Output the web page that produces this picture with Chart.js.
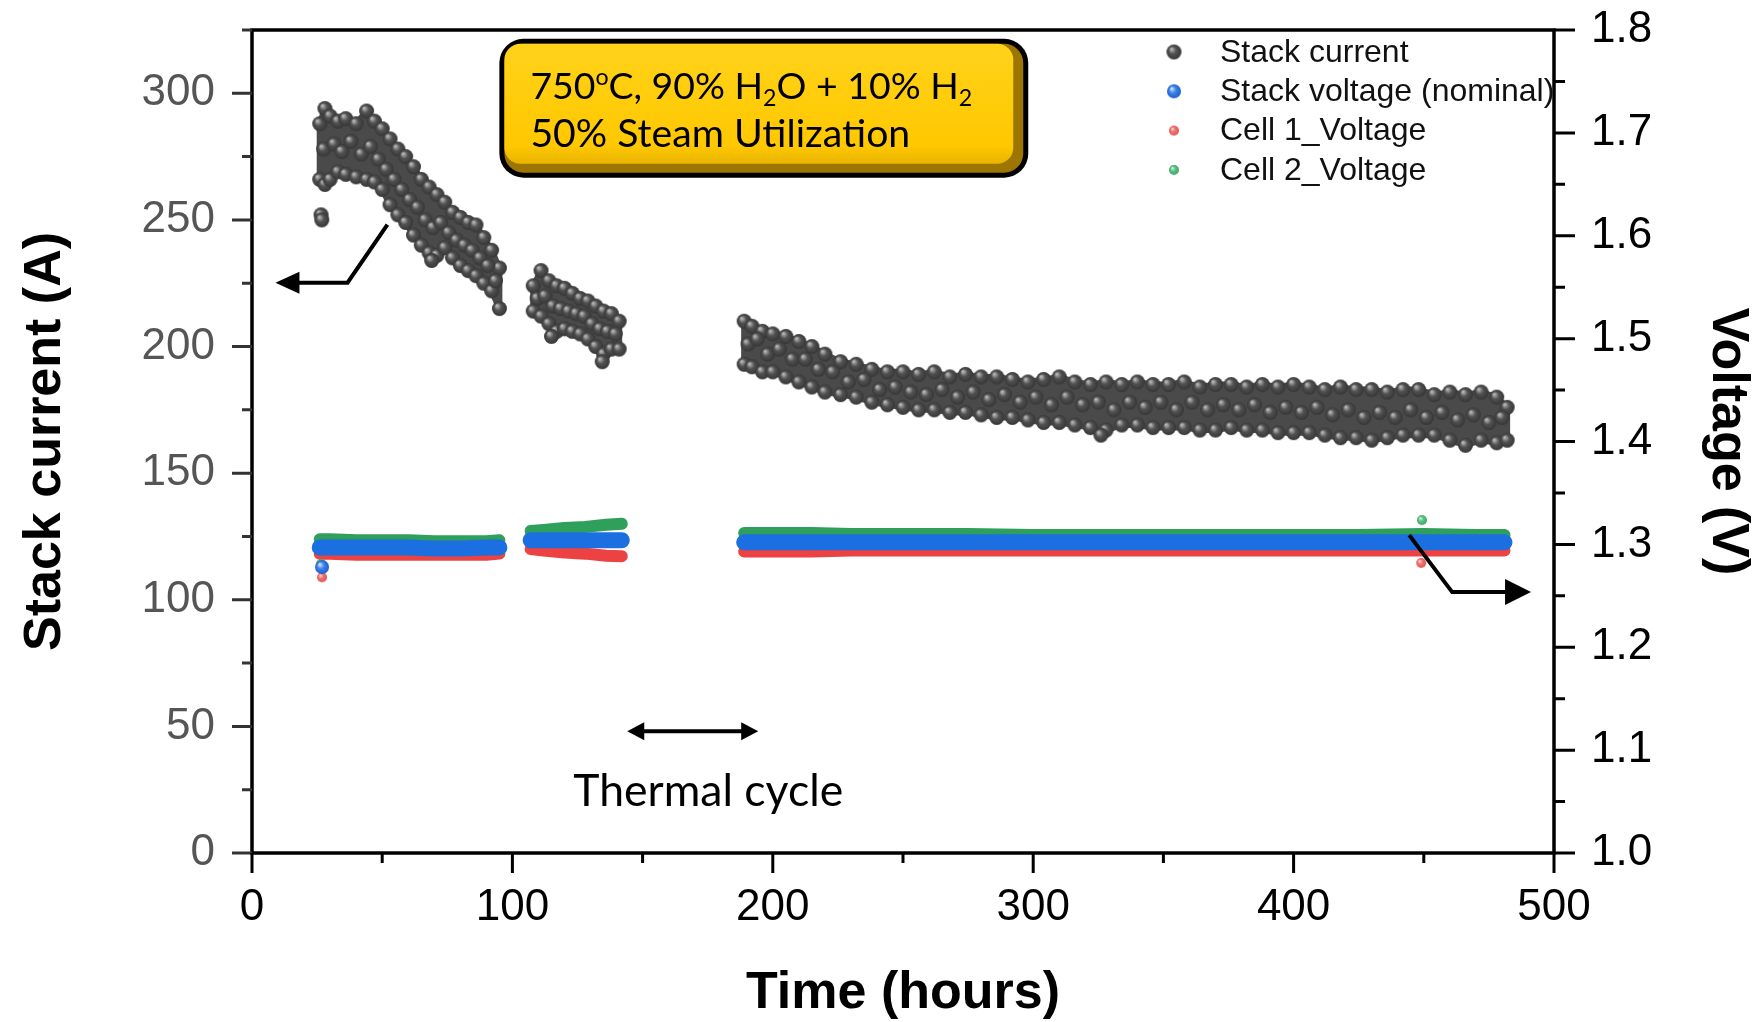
<!DOCTYPE html>
<html>
<head>
<meta charset="utf-8">
<title>Stack current and voltage</title>
<script src="https://cdn.jsdelivr.net/npm/chart.js@4.4.1/dist/chart.umd.min.js"></script>
<style>
  html, body { margin: 0; padding: 0; background: #fff; }
  #wrap { width: 1757px; height: 1022px; }
</style>
</head>
<body>
<div id="wrap"><canvas id="myChart"></canvas></div>
<script>
// Stack current, upper and lower edge of the scatter cloud per run (hours, A)
const curTime1 = [26, 28, 30, 33, 36, 40, 44, 47, 50, 53, 56, 59, 62, 65, 68, 71, 74, 77, 80, 83, 86, 89, 92, 95];
const curTop1 = [288, 294, 291, 289, 290, 288, 293, 289, 286, 282, 278, 275, 271, 266, 263, 260, 257, 253, 251, 249, 248, 243, 238, 231];
const curBot1 = [266, 264, 266, 269, 268, 267, 266, 265, 262, 256, 252, 249, 244, 240, 237, 236, 239, 235, 232, 230, 228, 225, 222, 215];
// readings inside the cloud
const curMidTime1 = [27.5, 31.5, 34.5, 38, 42, 45.5, 48.5, 51.5, 54.5, 57.5, 60.5, 63.5, 66.5, 69.5, 72.5, 75.5, 78.5, 81.5, 84.5, 87.5, 90.5, 93.5];
const curMid1 = [278, 280, 277, 281, 276, 279, 274, 270, 266, 262, 258, 255, 250, 247, 249, 245, 242, 240, 238, 235, 232, 226];

const curTime2 = [108, 111, 114, 117, 120, 123, 126, 129, 132, 135, 138, 141];
const curTop2 = [224, 230, 226, 224, 223, 221, 219, 218, 216, 214, 213, 210];
const curBot2 = [214, 212, 209, 206, 207, 206, 205, 203, 200, 197, 199, 199];
const curMidTime2 = [109.5, 112.5, 115.5, 118.5, 121.5, 124.5, 127.5, 130.5, 133.5, 136.5, 139.5];
const curMid2 = [219, 220, 216, 215, 214, 213, 212, 209, 207, 206, 205];

const curTime3 = [189, 192, 196, 200, 205, 210, 215, 220, 226, 232, 238, 244, 250, 256, 262, 268, 274, 280, 286, 292,
  298, 304, 310, 316, 322, 328, 334, 340, 346, 352, 358, 364, 370, 376, 382, 388, 394, 400, 406, 412,
  418, 424, 430, 436, 442, 448, 454, 460, 466, 472, 478, 482];
const curTop3 = [210, 208, 206, 205, 204, 202, 200, 197, 194, 193, 191, 190, 190, 189, 190, 188, 189, 188, 188, 187,
  186, 187, 188, 186, 185, 186, 185, 186, 185, 185, 186, 184, 185, 185, 184, 185, 184, 185, 184, 183,
  184, 183, 183, 182, 183, 183, 181, 182, 181, 182, 180, 176];
const curBot3 = [193, 192, 190, 190, 188, 186, 184, 182, 181, 180, 178, 177, 176, 175, 175, 174, 174, 173, 172, 172,
  171, 170, 170, 169, 168, 167, 169, 169, 168, 168, 168, 167, 167, 168, 167, 167, 166, 166, 166, 165,
  164, 164, 163, 164, 165, 165, 165, 163, 161, 163, 162, 163];
const curMidTime3 = [190.5, 194, 198, 202.5, 207.5, 212.5, 217.5, 223, 229, 235, 241, 247, 253, 259, 265, 271, 277, 283, 289, 295,
  301, 307, 313, 319, 325, 331, 337, 343, 349, 355, 361, 367, 373, 379, 385, 391, 397, 403, 409, 415,
  421, 427, 433, 439, 445, 451, 457, 463, 469, 475, 480];
const curMid3 = [201, 203, 197, 199, 195, 195, 191, 190, 186, 187, 183, 184, 182, 181, 183, 180, 182, 179, 181, 178,
  180, 177, 180, 177, 178, 175, 178, 176, 178, 175, 178, 175, 177, 175, 177, 174, 176, 174, 176, 173,
  175, 172, 174, 172, 175, 172, 174, 171, 173, 170, 172];

// stray current readings outside the band
const curOutTime = [26.5, 26.8, 69, 115, 134.5, 326];
const curOutVal = [252, 250, 234, 204, 194, 165];

// voltages (V); null = no data during the thermal cycle
const voltTime = [26, 30, 40, 50, 60, 70, 80, 90, 95, 101, 107, 112, 120, 128, 136, 142, 165,
  189, 200, 215, 230, 250, 275, 300, 325, 350, 375, 400, 425, 450, 470, 481];
const stackVolt = [1.297, 1.297, 1.297, 1.297, 1.297, 1.296, 1.296, 1.297, 1.297, null,
  1.304, 1.304, 1.304, 1.304, 1.304, 1.304, null,
  1.302, 1.302, 1.302, 1.302, 1.302, 1.302, 1.302, 1.302, 1.302, 1.302, 1.302, 1.302, 1.302, 1.302, 1.302];
const cell1Volt = [1.291, 1.291, 1.290, 1.290, 1.290, 1.290, 1.290, 1.290, 1.291, null,
  1.2955, 1.294, 1.292, 1.291, 1.289, 1.2885, null,
  1.293, 1.293, 1.293, 1.294, 1.294, 1.294, 1.294, 1.294, 1.294, 1.294, 1.294, 1.294, 1.294, 1.294, 1.294];
const cell2Volt = [1.305, 1.305, 1.304, 1.304, 1.304, 1.303, 1.303, 1.303, 1.304, null,
  1.313, 1.314, 1.316, 1.317, 1.319, 1.320, null,
  1.311, 1.311, 1.311, 1.310, 1.310, 1.310, 1.309, 1.309, 1.309, 1.309, 1.309, 1.309, 1.310, 1.309, 1.309];

const stackOutTime = [26.9];
const stackOutVolt = [1.278];
const cell1OutTime = [26.9, 449];
const cell1OutVolt = [1.268, 1.282];
const cell2OutTime = [26.5, 449.3];
const cell2OutVolt = [1.281, 1.3236];

const seriesLabels = ['Stack current', 'Stack voltage (nominal)', 'Cell 1_Voltage', 'Cell 2_Voltage'];

// axis ticks
const xTicks = [0, 100, 200, 300, 400, 500];
const xMinorTicks = [50, 150, 250, 350, 450];
const currentTicks = [0, 50, 100, 150, 200, 250, 300];
const currentMinorTicks = [25, 75, 125, 175, 225, 275, 325];
const voltTicks = [1.0, 1.1, 1.2, 1.3, 1.4, 1.5, 1.6, 1.7, 1.8];
const voltMinorTicks = [1.05, 1.15, 1.25, 1.35, 1.45, 1.55, 1.65, 1.75];

const currentSegments = [
  { time: curTime1, top: curTop1, bottom: curBot1 },
  { time: curTime2, top: curTop2, bottom: curBot2 },
  { time: curTime3, top: curTop3, bottom: curBot3 }
];

const xy = (xs, ys) => xs.map((x, i) => ({ x: x, y: ys[i] }));

const currentPoints = [];
currentSegments.forEach(s => {
  currentPoints.push(...xy(s.time, s.top), ...xy(s.time, s.bottom));
});
currentPoints.push(...xy(curMidTime1, curMid1), ...xy(curMidTime2, curMid2), ...xy(curMidTime3, curMid3));
currentPoints.push(...xy(curOutTime, curOutVal));

const BLUE = '#1c6fe0', RED = '#ec4242', GREEN = '#2f9f5c';

function makeSphere(r, light, mid, dark) {
  const c = document.createElement('canvas');
  const s = Math.ceil(r * 2 + 2);
  c.width = c.height = s;
  const g = c.getContext('2d');
  const grad = g.createRadialGradient(s / 2 - r * 0.35, s / 2 - r * 0.4, r * 0.08, s / 2, s / 2, r);
  grad.addColorStop(0, light);
  grad.addColorStop(0.45, mid);
  grad.addColorStop(1, dark);
  g.fillStyle = grad;
  g.beginPath();
  g.arc(s / 2, s / 2, r, 0, Math.PI * 2);
  g.fill();
  return c;
}

const greySphere = makeSphere(7.5, '#b8b8b8', '#525252', '#363636');
const blueSphere = makeSphere(7, '#cfe0ff', '#3b82ec', '#1f5fc8');
const redDot = makeSphere(5, '#ffd0d0', '#f07070', '#e05555');
const greenDot = makeSphere(5, '#d0f5dc', '#5cc085', '#3fa868');

// dark body of the current cloud, filled between its upper and lower edge
const bandFill = {
  id: 'bandFill',
  beforeDatasetsDraw(chart) {
    const { ctx, chartArea, scales } = chart;
    const x = scales.x, y = scales.y;
    ctx.save();
    ctx.beginPath();
    ctx.rect(chartArea.left, chartArea.top, chartArea.width, chartArea.height);
    ctx.clip();
    ctx.fillStyle = '#4a4a4a';
    ctx.strokeStyle = '#4a4a4a';
    ctx.lineWidth = 6;
    ctx.lineJoin = 'round';
    currentSegments.forEach(s => {
      ctx.beginPath();
      s.time.forEach((t, i) => {
        const px = x.getPixelForValue(t), py = y.getPixelForValue(s.top[i]);
        if (i === 0) ctx.moveTo(px, py); else ctx.lineTo(px, py);
      });
      for (let i = s.time.length - 1; i >= 0; i--) {
        ctx.lineTo(x.getPixelForValue(s.time[i]), y.getPixelForValue(s.bottom[i]));
      }
      ctx.closePath();
      ctx.fill();
      ctx.stroke();
    });
    ctx.restore();
  }
};

function arrowHead(ctx, tipX, tipY, dir, len, half) {
  ctx.beginPath();
  ctx.moveTo(tipX, tipY);
  ctx.lineTo(tipX - dir * len, tipY - half);
  ctx.lineTo(tipX - dir * len, tipY + half);
  ctx.closePath();
  ctx.fill();
}

function roundRect(ctx, x0, y0, x1, y1, r) {
  ctx.beginPath();
  ctx.moveTo(x0 + r, y0);
  ctx.arcTo(x1, y0, x1, y1, r);
  ctx.arcTo(x1, y1, x0, y1, r);
  ctx.arcTo(x0, y1, x0, y0, r);
  ctx.arcTo(x0, y0, x1, y0, r);
  ctx.closePath();
}

// text runs with super/subscripts; returns the width, draws only when asked
function richText(ctx, parts, x, base, size, family, draw) {
  const x0 = x;
  parts.forEach(p => {
    let sz = size, dy = 0;
    if (p.sup) { sz = size * 0.62; dy = -size * 0.36; }
    if (p.sub) { sz = size * 0.62; dy = size * 0.2; }
    ctx.font = sz + 'px ' + family;
    if (draw) ctx.fillText(p.t, x, base + dy);
    x += ctx.measureText(p.t).width;
  });
  return x - x0;
}

const boxLine1 = [{ t: '750' }, { t: 'o', sup: true }, { t: 'C, 90% H' }, { t: '2', sub: true },
  { t: 'O + 10% H' }, { t: '2', sub: true }];
const boxLine2 = [{ t: '50% Steam Utilization' }];

const decor = {
  id: 'decor',
  afterDraw(chart) {
    const { ctx, chartArea: a, scales } = chart;
    const x = scales.x, y = scales.y, y1 = scales.y1;
    ctx.save();

    // frame
    ctx.strokeStyle = '#000';
    ctx.lineWidth = 3.5;
    ctx.strokeRect(a.left, a.top, a.width, a.height);

    // tick marks
    const tick = (color, w, fn) => { ctx.strokeStyle = color; ctx.lineWidth = w; ctx.beginPath(); fn(); ctx.stroke(); };
    tick('#333', 3, () => {
      currentTicks.forEach(v => { const p = y.getPixelForValue(v); ctx.moveTo(a.left - 20, p); ctx.lineTo(a.left, p); });
      currentMinorTicks.forEach(v => { const p = y.getPixelForValue(v); ctx.moveTo(a.left - 10, p); ctx.lineTo(a.left, p); });
    });
    tick('#000', 3, () => {
      xTicks.forEach(v => { const p = x.getPixelForValue(v); ctx.moveTo(p, a.bottom); ctx.lineTo(p, a.bottom + 20); });
      xMinorTicks.forEach(v => { const p = x.getPixelForValue(v); ctx.moveTo(p, a.bottom); ctx.lineTo(p, a.bottom + 10); });
      voltTicks.forEach(v => { const p = y1.getPixelForValue(v); ctx.moveTo(a.right, p); ctx.lineTo(a.right + 21, p); });
      voltMinorTicks.forEach(v => { const p = y1.getPixelForValue(v); ctx.moveTo(a.right, p); ctx.lineTo(a.right + 11, p); });
    });

    // condition box
    const bx0 = x.getPixelForValue(95), bx1 = x.getPixelForValue(298.1);
    const by0 = y.getPixelForValue(321.5), by1 = y.getPixelForValue(266.7);
    ctx.fillStyle = '#000';
    roundRect(ctx, bx0, by0, bx1, by1, 24);
    ctx.fill();
    ctx.fillStyle = '#9c7600';
    roundRect(ctx, bx0 + 5, by0 + 5, bx1 - 5, by1 - 5, 19);
    ctx.fill();
    const face = ctx.createLinearGradient(0, by0 + 5, 0, by1 - 14);
    face.addColorStop(0, '#ffd21a');
    face.addColorStop(0.85, '#ffc800');
    face.addColorStop(1, '#e8b400');
    ctx.fillStyle = face;
    roundRect(ctx, bx0 + 5, by0 + 5, bx1 - 15, by1 - 14, 16);
    ctx.fill();

    const fam = 'Lato, "Open Sans", sans-serif';
    ctx.fillStyle = '#000';
    ctx.textAlign = 'left';
    ctx.textBaseline = 'alphabetic';
    const fs1 = 100 * 442 / richText(ctx, boxLine1, 0, 0, 100, fam, false);
    const fs2 = 100 * 380 / richText(ctx, boxLine2, 0, 0, 100, fam, false);
    richText(ctx, boxLine1, bx0 + 31, by0 + 60, fs1, fam, true);
    richText(ctx, boxLine2, bx0 + 31, by0 + 108, fs2, fam, true);

    // thermal cycle marker
    const tx0 = x.getPixelForValue(144.1), tx1 = x.getPixelForValue(194.4), ty = y.getPixelForValue(48.1);
    ctx.strokeStyle = '#000';
    ctx.lineWidth = 4;
    ctx.beginPath();
    ctx.moveTo(tx0 + 10, ty);
    ctx.lineTo(tx1 - 10, ty);
    ctx.stroke();
    arrowHead(ctx, tx0, ty, -1, 17, 9);
    arrowHead(ctx, tx1, ty, 1, 17, 9);
    ctx.font = '100px ' + fam;
    const fs3 = 100 * 270 / ctx.measureText('Thermal cycle').width;
    ctx.font = fs3 + 'px ' + fam;
    ctx.textAlign = 'center';
    ctx.fillText('Thermal cycle', x.getPixelForValue(175.2), y.getPixelForValue(24.9) + fs3 * 0.36);

    // axis pointers
    ctx.lineWidth = 4;
    ctx.lineJoin = 'miter';
    let p0 = [x.getPixelForValue(52.0), y.getPixelForValue(248.1)];
    let p1 = [x.getPixelForValue(36.7), y.getPixelForValue(225.2)];
    let p2 = [x.getPixelForValue(9.0), y.getPixelForValue(225.2)];
    ctx.beginPath();
    ctx.moveTo(p0[0], p0[1]); ctx.lineTo(p1[0], p1[1]); ctx.lineTo(p2[0] + 15, p2[1]);
    ctx.stroke();
    arrowHead(ctx, p2[0], p2[1], -1, 24, 11);

    p0 = [x.getPixelForValue(444.4), y1.getPixelForValue(1.309)];
    p1 = [x.getPixelForValue(460.9), y1.getPixelForValue(1.2536)];
    p2 = [x.getPixelForValue(491.2), y1.getPixelForValue(1.2536)];
    ctx.beginPath();
    ctx.moveTo(p0[0], p0[1]); ctx.lineTo(p1[0], p1[1]); ctx.lineTo(p2[0] - 15, p2[1]);
    ctx.stroke();
    arrowHead(ctx, p2[0], p2[1], 1, 26, 13);

    // legend
    const markers = [greySphere, blueSphere, redDot, greenDot];
    const lx = a.left + 922, tx = a.left + 968;
    ctx.font = '32px "Liberation Sans", Arial, sans-serif';
    ctx.textAlign = 'left';
    ctx.textBaseline = 'middle';
    ctx.fillStyle = '#111';
    seriesLabels.forEach((label, i) => {
      const ly = a.top + 22 + i * 39.3;
      const m = markers[i];
      ctx.drawImage(m, lx - m.width / 2, ly - m.height / 2);
      ctx.fillText(label, tx, ly + 1);
    });

    ctx.restore();
  }
};

Chart.defaults.font.family = '"Liberation Sans", Arial, sans-serif';

const lineSet = (label, ys, color, width) => ({
  label: label,
  data: xy(voltTime, ys),
  yAxisID: 'y1',
  showLine: true,
  spanGaps: false,
  borderColor: color,
  borderWidth: width,
  borderCapStyle: 'round',
  borderJoinStyle: 'round',
  pointRadius: 0,
  pointHoverRadius: 0,
  fill: false
});

const dotSet = (label, xs, ys, style) => ({
  label: label,
  data: xy(xs, ys),
  yAxisID: 'y1',
  pointStyle: style,
  pointRadius: 7,
  showLine: false
});

// fixed axis boxes so the plot frame sits where it should
const fitY = w => s => { s.width = w; s.paddingTop = 0; s.paddingBottom = 0; };

const ctx = document.getElementById('myChart').getContext('2d');
new Chart(ctx, {
  type: 'scatter',
  data: {
    datasets: [
      {
        label: seriesLabels[0],
        data: currentPoints,
        yAxisID: 'y',
        pointStyle: greySphere,
        pointRadius: 7.5,
        showLine: false
      },
      dotSet(seriesLabels[1], stackOutTime, stackOutVolt, blueSphere),
      lineSet(seriesLabels[1], stackVolt, BLUE, 16),
      dotSet(seriesLabels[2], cell1OutTime, cell1OutVolt, redDot),
      dotSet(seriesLabels[3], cell2OutTime, cell2OutVolt, greenDot),
      lineSet(seriesLabels[2], cell1Volt, RED, 12),
      lineSet(seriesLabels[3], cell2Volt, GREEN, 12)
    ]
  },
  options: {
    responsive: true,
    maintainAspectRatio: false,
    animation: false,
    layout: { padding: { top: 30, right: 0, bottom: 0, left: 0 } },
    plugins: {
      legend: { display: false },
      tooltip: { enabled: false }
    },
    scales: {
      x: {
        type: 'linear',
        position: 'bottom',
        min: 0,
        max: 500,
        afterBuildTicks: s => { s.ticks = xTicks.map(v => ({ value: v })); },
        afterFit: s => { s.height = 169; s.paddingLeft = 0; s.paddingRight = 0; },
        grid: { display: false, drawTicks: false },
        border: { display: false },
        ticks: { color: '#000', font: { size: 44, lineHeight: 1.2 }, padding: 28, maxRotation: 0 },
        title: {
          display: true,
          text: 'Time (hours)',
          color: '#000',
          font: { size: 52, weight: 'bold', lineHeight: 1 },
          padding: { top: 0, bottom: 2 }
        }
      },
      y: {
        type: 'linear',
        position: 'left',
        min: 0,
        max: 325,
        afterBuildTicks: s => { s.ticks = currentTicks.map(v => ({ value: v })); },
        afterFit: fitY(252),
        grid: { display: false, drawTicks: false },
        border: { display: false },
        ticks: { color: '#555', font: { size: 44 }, padding: 37 },
        title: {
          display: true,
          text: 'Stack current (A)',
          color: '#000',
          font: { size: 52, weight: 'bold', lineHeight: 1 },
          padding: { top: 20, bottom: 0 }
        }
      },
      y1: {
        type: 'linear',
        position: 'right',
        min: 1.0,
        max: 1.8,
        afterBuildTicks: s => { s.ticks = voltTicks.map(v => ({ value: v })); },
        afterFit: fitY(203),
        grid: { display: false, drawTicks: false },
        border: { display: false },
        ticks: { color: '#000', font: { size: 44 }, padding: 37, callback: v => v.toFixed(1) },
        title: {
          display: true,
          text: 'Voltage (V)',
          color: '#000',
          font: { size: 52, weight: 'bold', lineHeight: 1 },
          padding: { top: 4, bottom: 0 }
        }
      }
    }
  },
  plugins: [bandFill, decor]
});
</script>
</body>
</html>
